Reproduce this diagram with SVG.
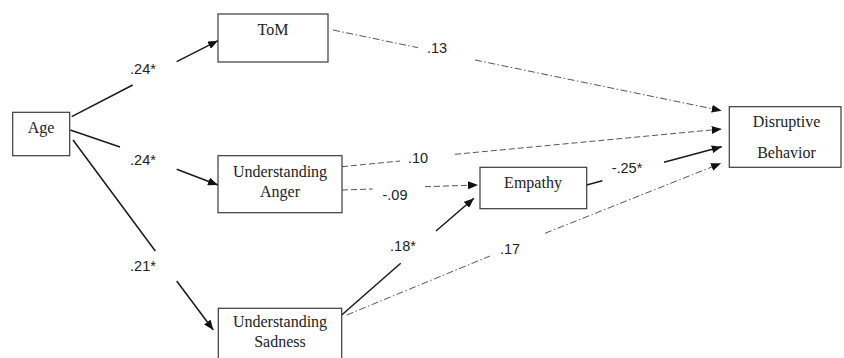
<svg xmlns="http://www.w3.org/2000/svg" width="844" height="358" viewBox="0 0 844 358">
<defs>
<style>
.box{fill:#fff;stroke:#3a3a3a;stroke-width:1.2}
.nt{font-family:"Liberation Serif","Times New Roman",serif;font-size:16px;fill:#222;text-anchor:middle}
.el{font-family:"Liberation Sans",Arial,sans-serif;font-size:14.5px;fill:#222;text-anchor:middle}
.solid{fill:none;stroke:#1a1a1a;stroke-width:1.5}
.dash{fill:none;stroke:#555;stroke-width:1;stroke-dasharray:6 3}
.dashdot{fill:none;stroke:#555;stroke-width:1;stroke-dasharray:7 2.5 1.5 2.5}
</style>
<marker id="ah" viewBox="0 0 10 8" refX="10" refY="4" markerWidth="10" markerHeight="8" markerUnits="userSpaceOnUse" orient="auto">
<path d="M0,0 L10,4 L0,8 Z" fill="#111"/>
</marker>
</defs>
<rect width="844" height="358" fill="#fff"/>
<g id="connectors">
<path class="solid" d="M71.7,116.7 L132.7,85 M176.7,61.7 L218,40.7" marker-end="url(#ah)"/>
<path class="solid" d="M70.3,130 L120,147 M176.7,169.3 L218,185" marker-end="url(#ah)"/>
<path class="solid" d="M73,140 L155.3,251 M176.7,281 L213.3,330" marker-end="url(#ah)"/>
<path class="dashdot" d="M333,30 L418,47.7 M475,60 L721.7,110.7" marker-end="url(#ah)"/>
<path class="dash" d="M342,166.7 L400,161 M455,154.3 L721.7,129" marker-end="url(#ah)"/>
<path class="dash" d="M342,190 L372.7,189 M425,186.7 L478,185" marker-end="url(#ah)"/>
<path class="solid" d="M341.7,315 L400.7,263.3 M436,231 L474,198.3" marker-end="url(#ah)"/>
<path class="dashdot" d="M346.7,315 L490,256 M545,233.3 L721,163.3" marker-end="url(#ah)"/>
<path class="solid" d="M586.7,185 L602.3,180.7 M664,162.3 L721.7,146.7" marker-end="url(#ah)"/>
<text class="el" x="143" y="74">.24*</text>
<text class="el" x="143" y="165">.24*</text>
<text class="el" x="143" y="271">.21*</text>
<text class="el" x="437" y="53">.13</text>
<text class="el" x="418" y="163">.10</text>
<text class="el" x="395" y="200">-.09</text>
<text class="el" x="403" y="251">.18*</text>
<text class="el" x="510" y="254">.17</text>
<text class="el" x="627" y="173">-.25*</text>
</g>
<g id="age">
<rect class="box" x="12.7" y="112.3" width="57" height="43.4"/>
<text class="nt" x="41" y="133">Age</text>
</g>
<g id="tom">
<rect class="box" x="218" y="14" width="110" height="48"/>
<text class="nt" x="273" y="35">ToM</text>
</g>
<g id="anger">
<rect class="box" x="218" y="155.7" width="124" height="57"/>
<text class="nt" x="280" y="177">Understanding</text>
<text class="nt" x="280" y="197">Anger</text>
</g>
<g id="sadness">
<rect class="box" x="218.3" y="308.3" width="123.4" height="60"/>
<text class="nt" x="280" y="327">Understanding</text>
<text class="nt" x="280" y="347">Sadness</text>
</g>
<g id="empathy">
<rect class="box" x="480" y="167.3" width="106.7" height="41.4"/>
<text class="nt" x="533" y="187.5">Empathy</text>
</g>
<g id="disruptive">
<rect class="box" x="729.3" y="106.7" width="111.7" height="60.6"/>
<text class="nt" x="786.5" y="126.7">Disruptive</text>
<text class="nt" x="786.5" y="158.3">Behavior</text>
</g>
</svg>
